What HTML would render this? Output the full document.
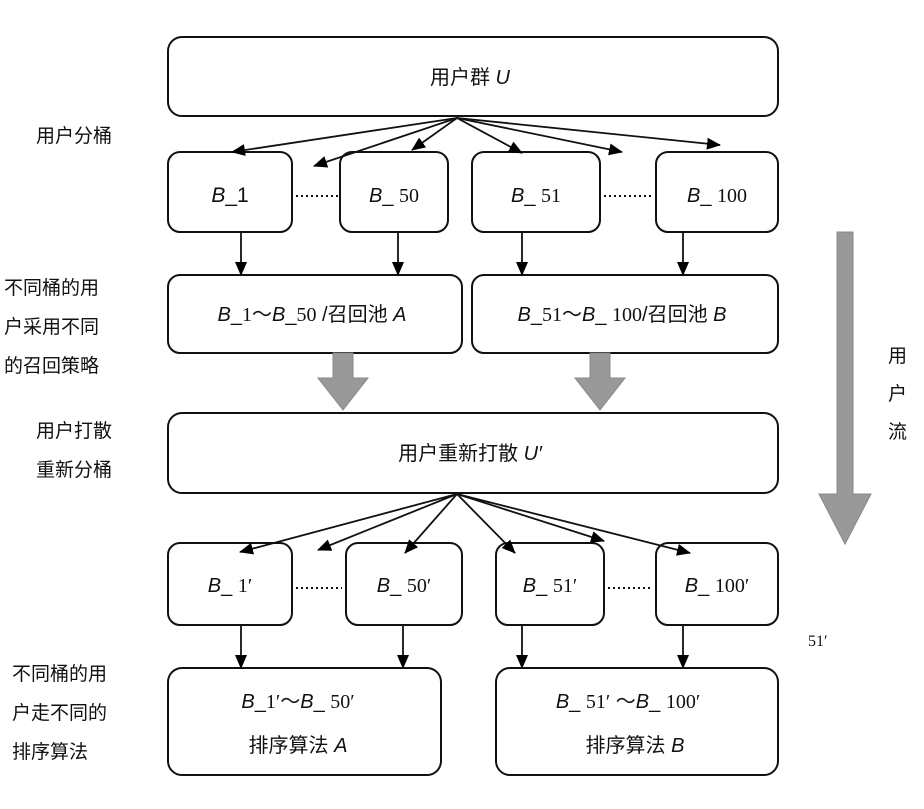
<!DOCTYPE html>
<html><head><meta charset="utf-8"><style>
body{margin:0;background:#fff}
svg text{font-family:"Liberation Sans","Noto Sans CJK SC",sans-serif;fill:#111}
.i{font-style:italic}
.s{font-family:"Liberation Serif",serif}
</style></head><body>
<svg width="924" height="804" viewBox="0 0 924 804" xmlns="http://www.w3.org/2000/svg">
<defs><marker id="a" markerWidth="14" markerHeight="12" refX="13" refY="6" orient="auto" markerUnits="userSpaceOnUse"><path d="M0,0 L14,6 L0,12 z" fill="#000"/></marker></defs>
<g fill="#fff" stroke="#111" stroke-width="2">
<rect x="168" y="37" width="610" height="79" rx="14"/>
<rect x="168" y="152" width="124" height="80" rx="12"/>
<rect x="340" y="152" width="108" height="80" rx="12"/>
<rect x="472" y="152" width="128" height="80" rx="12"/>
<rect x="656" y="152" width="122" height="80" rx="12"/>
<rect x="168" y="275" width="294" height="78" rx="12"/>
<rect x="472" y="275" width="306" height="78" rx="12"/>
<rect x="168" y="413" width="610" height="80" rx="14"/>
<rect x="168" y="543" width="124" height="82" rx="12"/>
<rect x="346" y="543" width="116" height="82" rx="12"/>
<rect x="496" y="543" width="108" height="82" rx="12"/>
<rect x="656" y="543" width="122" height="82" rx="12"/>
<rect x="168" y="668" width="273" height="107" rx="14"/>
<rect x="496" y="668" width="282" height="107" rx="14"/>
</g>
<g stroke="#111" stroke-width="1.8" marker-end="url(#a)">
<line x1="457" y1="118" x2="232" y2="152"/>
<line x1="457" y1="118" x2="314" y2="166"/>
<line x1="457" y1="118" x2="412" y2="150"/>
<line x1="457" y1="118" x2="522" y2="153"/>
<line x1="457" y1="118" x2="622" y2="152"/>
<line x1="457" y1="118" x2="720" y2="145"/>
<line x1="241" y1="232" x2="241" y2="275"/>
<line x1="398" y1="232" x2="398" y2="275"/>
<line x1="522" y1="232" x2="522" y2="275"/>
<line x1="683" y1="232" x2="683" y2="275"/>
<line x1="457" y1="494" x2="240" y2="552"/>
<line x1="457" y1="494" x2="318" y2="550"/>
<line x1="457" y1="494" x2="405" y2="553"/>
<line x1="457" y1="494" x2="515" y2="553"/>
<line x1="457" y1="494" x2="604" y2="541"/>
<line x1="457" y1="494" x2="690" y2="553"/>
<line x1="241" y1="625" x2="241" y2="668"/>
<line x1="403" y1="625" x2="403" y2="668"/>
<line x1="522" y1="625" x2="522" y2="668"/>
<line x1="683" y1="625" x2="683" y2="668"/>
</g>
<g stroke="#111" stroke-width="2" stroke-dasharray="2,3">
<line x1="296" y1="196" x2="338" y2="196"/><line x1="604" y1="196" x2="652" y2="196"/>
<line x1="296" y1="588" x2="342" y2="588"/><line x1="608" y1="588" x2="652" y2="588"/>
</g>
<g fill="#999" stroke="#888">
<path d="M333,353 h20 v25 h15 l-25,32 l-25,-32 h15z"/>
<path d="M590,353 h20 v25 h15 l-25,32 l-25,-32 h15z"/>
<path d="M837,232 h16 v262 h18 l-26,50 l-26,-50 h18z"/>
</g>
<g font-size="20" text-anchor="middle">
<text x="470" y="84">用户群 <tspan class="i">U</tspan></text>
<text x="230" y="202" font-size="21"><tspan class="i">B</tspan>_1</text>
<text x="394" y="202"><tspan class="i">B</tspan>_ <tspan class="s">50</tspan></text>
<text x="536" y="202"><tspan class="i">B</tspan>_ <tspan class="s">51</tspan></text>
<text x="717" y="202"><tspan class="i">B</tspan>_ <tspan class="s">100</tspan></text>
<text x="312" y="321"><tspan class="i">B</tspan>_<tspan class="s">1</tspan>～<tspan class="i">B</tspan>_<tspan class="s">50</tspan> /召回池 <tspan class="i">A</tspan></text>
<text x="622" y="321"><tspan class="i">B</tspan>_<tspan class="s">51</tspan>～<tspan class="i">B</tspan>_ <tspan class="s">100</tspan>/召回池 <tspan class="i">B</tspan></text>
<text x="470" y="460">用户重新打散 <tspan class="i">U′</tspan></text>
<text x="230" y="592"><tspan class="i">B</tspan>_ <tspan class="s">1′</tspan></text>
<text x="404" y="592"><tspan class="i">B</tspan>_ <tspan class="s">50′</tspan></text>
<text x="550" y="592"><tspan class="i">B</tspan>_ <tspan class="s">51′</tspan></text>
<text x="717" y="592"><tspan class="i">B</tspan>_ <tspan class="s">100′</tspan></text>
<text x="298" y="708"><tspan class="i">B</tspan>_<tspan class="s">1′</tspan>～<tspan class="i">B</tspan>_ <tspan class="s">50′</tspan></text>
<text x="298" y="752">排序算法 <tspan class="i">A</tspan></text>
<text x="628" y="708"><tspan class="i">B</tspan>_ <tspan class="s">51′</tspan> ～<tspan class="i">B</tspan>_  <tspan class="s">100′</tspan></text>
<text x="635" y="752">排序算法 <tspan class="i">B</tspan></text>
</g>
<g font-size="19">
<text x="36" y="142">用户分桶</text>
<text x="4" y="294">不同桶的用</text>
<text x="4" y="333">户采用不同</text>
<text x="4" y="372">的召回策略</text>
<text x="36" y="437">用户打散</text>
<text x="36" y="476">重新分桶</text>
<text x="12" y="680">不同桶的用</text>
<text x="12" y="719">户走不同的</text>
<text x="12" y="758">排序算法</text>
<text x="888" y="362">用</text>
<text x="888" y="400">户</text>
<text x="888" y="438">流</text>
<text x="808" y="646" class="s" font-size="16">51′</text>
</g>
</svg>
</body></html>
